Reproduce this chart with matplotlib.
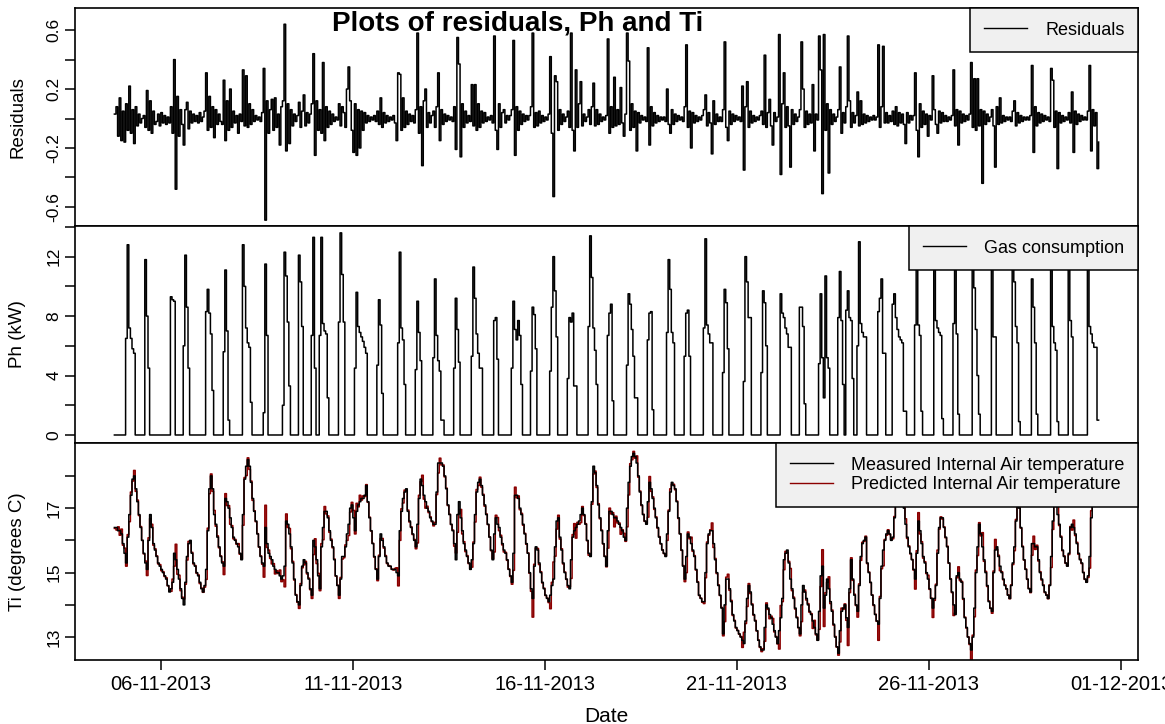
import matplotlib
matplotlib.use('Agg')
import matplotlib.pyplot as plt
import matplotlib.dates as mdates
import numpy as np
import pandas as pd

plt.rcParams['font.family'] = ['Liberation Sans', 'DejaVu Sans']

# hourly series, first reading 04-11-2013 19:00
time_start = '2013-11-04 19:00'

# measured internal air temperature (deg C), one row per 24 hours
ti_meas = [
    16.4, 16.4, 16.3, 16.3, 16.2, 15.9, 15.6, 15.3, 16.1, 16.8, 17.4, 17.9, 18.0, 17.6, 17.2, 16.8, 16.4, 16.0, 15.6, 15.3, 15.1, 16.0, 16.8, 16.4,
    15.9, 15.7, 15.5, 15.3, 15.2, 15.1, 15.0, 14.9, 14.8, 14.6, 14.4, 14.5, 14.7, 15.6, 15.4, 15.1, 14.8, 14.5, 14.2, 14.0, 14.7, 15.5, 15.9, 16.0,
    15.6, 15.3, 15.2, 15.0, 14.9, 14.7, 14.5, 14.4, 14.6, 15.1, 16.3, 17.6, 18.0, 17.6, 16.8, 16.5, 16.1, 15.8, 15.5, 15.3, 15.2, 17.3, 17.2, 17.0,
    16.7, 16.4, 16.1, 16.0, 15.9, 15.8, 15.6, 15.4, 16.8, 17.9, 18.3, 18.5, 18.3, 17.8, 17.3, 16.9, 16.6, 16.2, 15.8, 15.5, 15.3, 15.2, 16.4, 15.9,
    15.6, 15.5, 15.4, 15.2, 15.1, 15.0, 15.0, 14.9, 14.8, 14.9, 15.2, 16.6, 16.5, 16.2, 15.8, 15.3, 14.8, 14.3, 14.1, 14.0, 14.6, 15.2, 15.4, 15.3,
    15.0, 14.8, 14.5, 14.3, 16.0, 15.8, 15.4, 14.9, 14.5, 15.8, 16.4, 16.9, 16.9, 16.7, 16.3, 16.0, 15.8, 15.4, 14.9, 14.6, 14.3, 14.8, 15.5, 15.5,
    15.8, 16.2, 16.5, 17.0, 17.1, 16.7, 16.3, 16.9, 17.1, 17.2, 17.3, 17.3, 17.4, 17.7, 17.2, 16.7, 16.3, 15.9, 15.5, 15.1, 14.8, 15.5, 16.2, 16.0,
    15.8, 15.5, 15.3, 15.2, 15.2, 15.1, 15.1, 15.1, 15.0, 14.9, 16.3, 16.9, 17.3, 17.5, 17.6, 16.9, 16.6, 16.4, 16.2, 16.0, 15.8, 16.5, 17.3, 17.9,
    17.7, 17.4, 17.2, 17.0, 16.9, 16.7, 16.6, 16.5, 16.5, 17.5, 18.4, 18.4, 18.4, 18.3, 18.0, 17.6, 17.1, 16.8, 16.5, 16.3, 15.9, 15.4, 16.8, 17.2,
    16.7, 16.3, 15.9, 15.7, 15.5, 15.3, 15.1, 15.4, 15.9, 16.8, 17.5, 17.8, 17.9, 17.7, 17.4, 17.1, 16.8, 16.5, 16.1, 15.7, 15.4, 16.2, 16.7, 16.5,
    16.4, 16.1, 15.9, 15.7, 15.6, 15.4, 15.1, 14.9, 14.7, 15.6, 17.4, 17.4, 17.3, 17.0, 16.8, 16.5, 16.2, 15.9, 15.6, 15.0, 14.5, 14.2, 15.2, 15.8,
    15.7, 15.3, 15.0, 14.7, 14.5, 14.3, 14.2, 14.1, 14.3, 14.6, 14.8, 15.8, 16.6, 16.7, 16.1, 15.7, 15.3, 15.0, 14.8, 14.6, 14.5, 15.4, 16.1, 16.3,
    16.4, 16.5, 16.6, 16.8, 17.0, 16.8, 16.5, 16.0, 15.6, 15.5, 17.2, 18.3, 18.1, 17.7, 17.1, 16.7, 16.3, 15.9, 15.5, 15.2, 16.3, 16.9, 16.9, 16.8,
    16.7, 16.7, 16.6, 16.5, 16.4, 16.3, 16.1, 16.0, 17.0, 17.8, 18.3, 18.6, 18.7, 18.6, 18.4, 18.0, 17.5, 17.1, 16.8, 16.6, 16.5, 17.2, 17.8, 17.6,
    17.3, 17.0, 16.7, 16.4, 16.1, 15.9, 15.7, 15.6, 15.5, 16.2, 16.9, 17.5, 17.8, 17.7, 17.6, 17.2, 16.7, 16.2, 15.7, 15.2, 14.8, 15.5, 16.2, 16.1,
    15.9, 15.7, 15.5, 15.1, 14.7, 14.3, 14.2, 14.1, 14.1, 15.0, 15.9, 16.2, 16.3, 16.3, 15.9, 15.4, 15.0, 14.6, 14.3, 13.9, 13.1, 14.0, 14.8, 14.8,
    14.5, 14.1, 13.7, 13.5, 13.3, 13.2, 13.1, 13.0, 12.9, 12.8, 13.5, 14.2, 14.6, 14.4, 14.0, 13.7, 13.5, 13.2, 12.9, 12.7, 12.6, 12.6, 13.3, 14.0,
    13.9, 13.7, 13.6, 13.4, 13.2, 13.0, 12.8, 13.2, 13.6, 14.2, 15.4, 15.6, 15.7, 15.3, 14.8, 14.5, 14.2, 13.9, 13.6, 13.3, 13.1, 14.0, 14.6, 14.4,
    14.2, 14.0, 13.8, 13.7, 13.5, 13.3, 13.1, 12.9, 13.8, 14.9, 15.2, 13.9, 14.3, 14.8, 14.5, 14.1, 13.8, 13.4, 13.0, 12.7, 12.5, 13.2, 13.8, 13.9,
    14.0, 13.6, 13.3, 14.5, 15.4, 14.8, 14.3, 14.0, 13.8, 14.6, 15.5, 15.9, 16.0, 16.1, 15.3, 15.0, 14.7, 14.3, 14.0, 13.7, 13.5, 13.4, 14.2, 15.2,
    15.7, 16.0, 16.2, 16.3, 16.2, 16.0, 16.1, 16.7, 17.2, 17.5, 17.6, 17.5, 17.3, 17.0, 16.5, 16.1, 15.8, 15.6, 15.4, 15.1, 14.8, 15.6, 16.6, 16.3,
    15.9, 15.5, 15.3, 15.0, 14.8, 14.5, 14.2, 13.9, 14.2, 14.6, 15.6, 16.4, 16.7, 16.7, 16.4, 16.1, 15.8, 15.3, 14.8, 14.4, 14.0, 13.7, 14.9, 15.0,
    14.8, 14.7, 14.2, 13.6, 13.3, 13.0, 12.8, 12.6, 13.0, 13.9, 15.0, 15.8, 16.5, 16.2, 15.8, 15.4, 15.0, 14.6, 14.1, 13.9, 13.8, 15.0, 15.7, 15.8,
    15.5, 15.2, 15.0, 14.8, 14.6, 14.5, 14.3, 14.2, 14.6, 15.3, 15.8, 16.6, 17.2, 17.0, 16.4, 15.8, 15.4, 15.1, 14.8, 14.5, 14.4, 15.9, 15.9, 15.8,
    15.8, 15.4, 15.0, 14.8, 14.6, 14.4, 14.3, 14.2, 14.6, 15.5, 16.6, 17.3, 17.1, 16.8, 16.5, 16.1, 15.7, 15.5, 15.3, 15.2, 15.6, 16.4, 16.5, 16.4,
    16.2, 15.9, 15.6, 15.4, 15.3, 15.0, 14.8, 14.7, 14.9, 15.5, 16.7, 17.2, 17.4, 17.3, 17.2, 17.1,
]

# gas heating power (kW): hour index where each burn starts, and its hourly values
ph_start = [7, 19, 35, 43, 57, 68, 80, 93, 105, 115, 123, 128, 140, 150, 164, 177, 188, 199,
            212, 223, 237, 248, 260, 272, 283, 296, 308, 320, 333, 345, 356, 368, 380, 393,
            404, 416, 428, 440, 452, 457, 464, 477, 486, 500, 512, 524, 536, 548, 561, 573,
            585, 596, 608]
ph_pulses = [
    [6.5, 12.8, 7.2, 6.5, 5.8, 5.5], [11.8, 8.0, 4.5], [9.3, 9.1, 9.0], [6.0, 12.1, 8.6, 4.5],
    [8.3, 9.8, 8.2, 6.8, 3.0], [5.6, 11.1, 7.0, 1.0], [12.8, 10.0, 7.2, 6.2, 5.9, 2.2],
    [1.5, 11.5, 6.7], [2.0, 12.3, 10.7, 7.6, 3.3], [12.1, 10.3, 7.3], [6.7, 13.3, 4.5],
    [6.7, 13.3, 7.5, 7.0, 6.8, 2.5], [7.6, 13.6, 10.8, 7.6], [4.5, 9.6, 7.3, 6.9, 6.6, 6.3, 5.9, 5.5],
    [4.7, 9.1, 7.4, 2.8], [6.2, 12.3, 7.2, 6.4, 3.4], [4.4, 9.0, 6.9, 5.0],
    [5.2, 10.5, 6.7, 5.0, 4.3, 1.0, 1.0], [4.5, 9.2, 7.1, 4.9], [5.3, 11.3, 9.2, 6.8, 5.5, 4.5, 4.5],
    [7.7, 7.9, 5.1], [4.5, 9.0, 7.1, 6.4, 7.7, 6.7, 3.4], [4.3, 8.6, 8.1, 5.8],
    [4.3, 8.6, 12.0, 9.7, 6.6], [3.8, 7.9, 7.6, 8.2, 3.3, 3.3], [7.3, 13.4, 10.6, 7.2, 5.7, 3.4],
    [6.7, 8.2, 8.8, 2.3], [4.7, 9.5, 8.8, 7.1, 5.3, 2.5, 2.5], [6.4, 8.2, 8.3, 1.7],
    [6.9, 11.8, 9.8, 6.9, 6.2], [5.3, 8.2, 8.4, 5.3], [7.2, 13.2, 7.4, 6.8, 6.2, 6.2],
    [4.2, 9.8, 8.9, 5.8], [3.6, 12.0, 10.3, 7.9, 7.9], [4.2, 9.7, 8.9, 6.0],
    [9.5, 8.2, 7.9, 7.2, 6.8, 5.9, 5.9], [8.6, 8.6, 7.3, 2.1], [4.8, 9.5, 5.2, 2.5, 10.7, 5.2, 4.5],
    [7.9, 11.0, 7.7, 3.4], [8.4, 9.7, 7.9, 7.7, 3.8], [6.0, 13.0, 7.5, 6.9, 6.6, 6.6],
    [8.3, 9.2, 10.5, 5.5, 5.5], [8.8, 9.5, 7.9, 7.1, 6.6, 6.4, 6.2, 1.6, 1.6],
    [7.4, 12.5, 7.4, 6.7, 1.6], [12.8, 7.7, 7.2, 6.9, 6.7, 1.1], [7.5, 12.5, 6.8, 1.4],
    [12.4, 9.9, 7.1, 4.0, 1.4], [12.0, 6.6, 6.6], [12.6, 10.3, 7.3, 6.2, 0.9], [10.5, 8.6, 6.2, 1.4],
    [12.2, 7.3, 6.2, 5.7, 0.9], [12.4, 7.7, 6.6], [12.3, 7.3, 6.8, 6.2, 5.9, 5.9, 1.0, 1.0],
]

# model residuals (hundredths of deg C), stretches of hourly values with their start hour
res_start = [0, 18, 26, 34, 43, 51, 56, 67, 79, 92, 103, 115, 122, 128, 140, 163, 175, 187,
             198, 211, 222, 236, 247, 259, 271, 283, 296, 307, 319, 332, 344, 355, 367, 379,
             391, 403, 415, 428, 440, 452, 457, 464, 477, 486, 499, 511, 523, 534, 548, 560,
             572, 584, 596, 608]
res_vals = [
    [3, 8, -12, 14, -15, 5, -16, 10, -8, 22, -10, 6, -17, 8, -5, 3, -3],
    [2, -6, 19, -8, 12, -10, 5, -4],
    [-2, 3, -5, 4, -3, 2, -4, 1],
    [-3, 8, -10, 40, -48, 15, -12, 6, -4],
    [-18, 6, 11, -7, 5, -3, 3, -2],
    [2, -3, 4, -2, 1],
    [5, 31, -8, 15, -6, 8, -13, 6, -4, 3, -2],
    [-4, 26, -15, 12, -8, 20, -6, 5, -3, 2, -10, 3],
    [-2, 33, -5, 29, -6, 10, -4, 6, -2, 2, -1, 1, -2],
    [4, 34, -69, 12, -10, 6, 13, -8, 14, -6, 3],
    [-18, 8, 12, 64, -22, 10, -17, 6, -5, 3, -2, 2],
    [11, -6, 5, 16, -5, 4, -3],
    [3, 10, 44, -25, 12, -8],
    [6, -10, 38, -15, 8, -6, 5, -4, 3, -2, 1, -1],
    [10, -5, 8, 4, -6, 20, 35, 12, -8, -23, 10, -25, 6, -20, 5, -8, 4, -3, 2, -2, 1, -1, 2],
    [-2, 5, -4, 14, -6, 4, -3, 2, -2, 1, -1, 2],
    [-3, -15, 31, 30, -8, 14, -6, 5, -4, 3, -2, 2],
    [-3, 6, 58, -10, 8, -32, 12, 20, -6, 4, -3],
    [2, 5, -6, 8, 31, -15, 6, -4, 3, -2, 2, -1, 1],
    [-2, 8, -21, 55, 37, -26, 10, -6, 5, -3, 2],
    [-2, 23, -5, 23, -8, 10, -6, 5, -3, 4, -2, 1, -1, 2],
    [-3, 56, -8, -21, 10, -6, 4, 6, -3, 2, -1],
    [2, 6, 53, -25, 8, -8, 5, -4, 3, -2, 2, -1],
    [2, 8, 58, -6, 4, -5, 5, -3, 2, -2, 1, -1],
    [3, 42, -10, -53, 29, 25, -8, 6, -4, 3, -2, 1],
    [5, -6, 58, -8, -22, 33, -6, 10, 25, -5, 3, -2, 1],
    [6, -4, 8, 24, -5, 6, -4, 3, -2, 1, -1],
    [2, 54, -10, 8, -6, 28, -5, 6, -4, 21, -3, -12],
    [3, 58, 39, -8, 10, -6, 5, -22, 4, -3, 2, -1, 1],
    [-2, 48, -18, 8, -5, 4, -3, 2, -2, 1, -1, 1],
    [-2, 20, -4, -10, 6, -4, 3, -2, 2, -1, 1],
    [-2, 8, 50, -6, 5, -20, 4, -3, 2, -2, 1, -1],
    [2, 6, 16, -5, 4, -3, -24, 12, -4, 3, -2, 1],
    [-2, 6, 52, -6, -15, 5, -4, 3, -2, 2, -1, 1],
    [-2, 22, -35, 8, 25, -6, 5, -3, 2, -2, 1, -1],
    [2, 5, -4, 43, -6, 4, 13, -5, -18, 4, -2, 1],
    [57, -38, 10, 31, -6, 8, -5, -33, 6, -4, 3, -2, 1],
    [6, 52, 20, -6, 5, -4, 3, -3, 23, -22, 3, -1],
    [56, 33, -51, 57, -8, 10, -37, 6, -4, 3, -2, 1],
    [6, 35, -10, 4, -3],
    [8, 56, 12, -6, 4, -3, 2],
    [18, -5, 12, -4, 3, -3, 2, -2, 1, -1, 2, -1, 1],
    [50, -6, 8, 49, -3, 4, -3, 2, -2],
    [5, -4, 8, -5, 4, -3, 3, -4, -17, 4, -3, 2, -1],
    [2, 31, -8, -26, 10, -6, 5, -4, 3, -12, 2, -1],
    [29, 6, -4, -10, 5, -3, 4, -2, 2, -2, 1, -1],
    [2, 33, -5, 6, -18, 5, -3, 3, -2, 2, -1],
    [3, 38, -6, 27, -8, 27, -5, 6, -44, 5, -4, 3, -2, 1],
    [6, -5, -33, 8, -4, 14, -3, 2, -2, 1, -1, 1],
    [-2, 5, 12, -5, 4, -3, 2, -2, 1, -1, 1, -1],
    [2, 36, -23, 8, -5, 4, -3, 3, -2, 2, -1, 1],
    [-2, 34, 26, -6, 5, -34, 4, -3, 2, -2, 1, -1],
    [4, -3, 18, -23, 5, -4, 3, -2, 2, -1, 1, -1],
    [5, 36, -22, 6, -5, 4, -34, -16],
]

n = len(ti_meas)
times = pd.date_range(time_start, periods=n, freq='h')

ph = np.zeros(n)
for s, vals in zip(ph_start, ph_pulses):
    ph[s:s + len(vals)] = vals[:n - s]

resid = np.zeros(n)
for s, vals in zip(res_start, res_vals):
    resid[s:s + len(vals)] = np.array(vals[:n - s]) / 100.0

ti_meas = np.array(ti_meas)
ti_pred = ti_meas - resid   # residual = measured - predicted

fig = plt.figure(figsize=(11.65, 7.24), dpi=100)
left, width = 0.0644, 0.9124
ax1 = fig.add_axes([left, 0.6878, width, 0.3011])
ax2 = fig.add_axes([left, 0.3881, width, 0.2997])
ax3 = fig.add_axes([left, 0.0884, width, 0.2997])

lw = 1.1
ax1.plot(times, resid, color='black', lw=lw, drawstyle='steps-post', label='Residuals')
ax2.plot(times, ph, color='black', lw=lw, drawstyle='steps-post', label='Gas consumption')
ax3.plot(times, ti_pred, color='#8B0000', lw=lw, drawstyle='steps-post',
         label='Predicted Internal Air temperature')
ax3.plot(times, ti_meas, color='black', lw=lw, drawstyle='steps-post',
         label='Measured Internal Air temperature')

pad = (times[-1] - times[0]) * 0.04
for ax in (ax1, ax2, ax3):
    ax.set_xlim(times[0] - pad, times[-1] + pad)
    for sp in ax.spines.values():
        sp.set_linewidth(1.2)
    ax.tick_params(axis='y', direction='out', length=7, width=1.1, labelsize=12.5,
                   labelrotation=90, pad=3)
    ax.yaxis.set_label_coords(-0.046, 0.5)

ax1.tick_params(axis='x', bottom=False, labelbottom=False)
ax2.tick_params(axis='x', bottom=False, labelbottom=False)

ax1.set_ylim(-0.73, 0.75)
ax1.set_yticks([-0.6, -0.4, -0.2, 0, 0.2, 0.4, 0.6], ['-0.6', '', '-0.2', '', '0.2', '', '0.6'], va='center')
ax1.set_ylabel('Residuals', fontsize=13.5)

ax2.set_ylim(-0.54, 14.06)
ax2.set_yticks([0, 2, 4, 6, 8, 10, 12, 14], ['0', '', '4', '', '8', '', '12', ''], va='center')
ax2.set_ylabel('Ph (kW)', fontsize=13.5)

ax3.set_ylim(12.29, 19.02)
ax3.set_yticks([13, 14, 15, 16, 17, 18], ['13', '', '15', '', '17', ''], va='center')
ax3.set_ylabel('Ti (degrees C)', fontsize=13.5)

ax3.xaxis.set_major_locator(mdates.DayLocator(bymonthday=[1, 6, 11, 16, 21, 26]))
ax3.xaxis.set_major_formatter(mdates.DateFormatter('%d-%m-%Y'))
ax3.tick_params(axis='x', direction='out', length=7, width=1.1, labelsize=14.5, pad=4)
ax3.set_xlabel('Date', fontsize=15)
ax3.xaxis.set_label_coords(0.5, -0.215)

leg_kw = dict(loc='upper right', frameon=True, fancybox=False, edgecolor='black',
              facecolor='#F0F0F0', framealpha=1, borderaxespad=0, fontsize=13,
              handlelength=2.4, handletextpad=1.0, borderpad=0.75)
leg1 = ax1.legend(**leg_kw)
leg2 = ax2.legend(**leg_kw)
h, l = ax3.get_legend_handles_labels()
leg3 = ax3.legend(h[::-1], l[::-1], labelspacing=0.15, **leg_kw)
for lg in (leg1, leg2, leg3):
    lg.get_frame().set_linewidth(1.1)
    for ln in lg.get_lines():
        ln.set_linewidth(1.0)

fig.text(0.444, 0.967, 'Plots of residuals, Ph and Ti', fontsize=20, fontweight='bold',
         ha='center', va='center')

fig.savefig('out.png', dpi=100)
